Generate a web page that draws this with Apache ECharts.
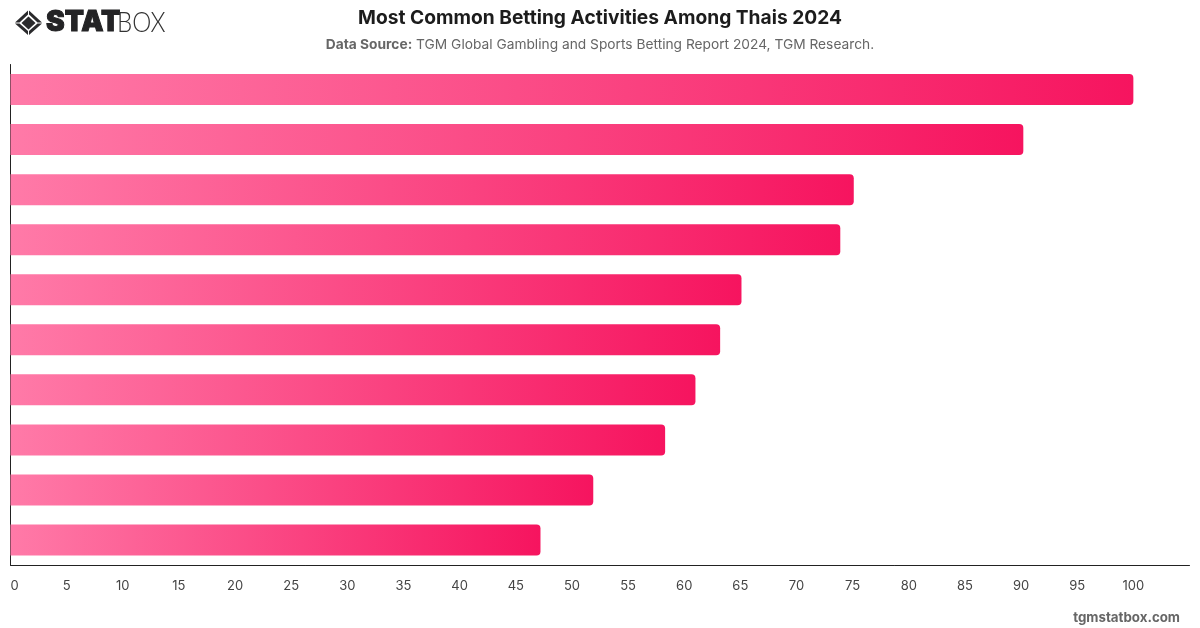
<!DOCTYPE html>
<html>
<head>
<meta charset="utf-8">
<style>html,body{margin:0;padding:0;background:#fff}#chart{width:1200px;height:628px}</style>
<script src="https://cdn.jsdelivr.net/npm/echarts@6/dist/echarts.min.js"></script>
</head>
<body>
<div id="chart"></div>
<script>
// Betting activity shares, largest first; the chart leaves the category names undrawn.
const categories = ['A1','A2','A3','A4','A5','A6','A7','A8','A9','A10'];
const values = [100, 90.2, 75.1, 73.9, 65.1, 63.2, 61, 58.3, 51.9, 47.2];
const titleText = 'Most Common Betting Activities Among Thais 2024';
const sourceLabel = 'Data Source:';
const sourceText = 'TGM Global Gambling and Sports Betting Report 2024, TGM Research.';
const siteText = 'tgmstatbox.com';

const font = 'Inter';
const chart = echarts.init(document.getElementById('chart'), null, {renderer: 'canvas'});

chart.setOption({
  animation: false,
  backgroundColor: '#fff',
  title: {
    text: titleText,
    subtext: '{b|' + sourceLabel + '} ' + sourceText,
    left: 595, top: 4, textAlign: 'center', itemGap: 10,
    textStyle: {fontFamily: font, fontSize: 19.2, fontWeight: 700, color: '#1c1c1c'},
    subtextStyle: {
      fontFamily: font, fontSize: 13.75, color: '#666',
      rich: {b: {fontFamily: font, fontSize: 13.75, fontWeight: 700, color: '#666'}}
    }
  },
  grid: {left: 10.5, right: 10.5, top: 64.5, height: 500.5},
  xAxis: {
    type: 'value', min: 0, max: 105, interval: 5,
    splitLine: {show: false},
    axisLine: {show: true, lineStyle: {color: '#222', width: 1}},
    axisTick: {show: false},
    axisLabel: {
      color: '#444', fontFamily: font, fontSize: 13, margin: 15,
      alignMinLabel: 'left',
      formatter: v => v > 100 ? '' : String(v)
    }
  },
  yAxis: {
    type: 'category', data: categories, inverse: true,
    axisLine: {show: true, lineStyle: {color: '#222', width: 1}},
    axisTick: {show: false},
    axisLabel: {show: false}
  },
  series: [{
    type: 'bar',
    data: values,
    barWidth: 31,
    itemStyle: {
      borderRadius: [0, 4, 4, 0],
      color: new echarts.graphic.LinearGradient(0, 0, 1, 0, [
        {offset: 0, color: '#ff7aa8'},
        {offset: 1, color: '#f6145f'}
      ])
    }
  }],
  graphic: [
    // Brand mark: four chevrons forming a diamond around a solid centre
    {type: 'polygon', shape: {points: [[15,22.5],[28,10.5],[28,14.5],[19.5,22.5]]}, style: {fill: '#2a2a2c'}},
    {type: 'polygon', shape: {points: [[29,10.5],[42,22.5],[37.5,22.5],[29,14.5]]}, style: {fill: '#2a2a2c'}},
    {type: 'polygon', shape: {points: [[15,23.5],[28,35],[28,31],[19.5,23.5]]}, style: {fill: '#2a2a2c'}},
    {type: 'polygon', shape: {points: [[29,35],[42,23.5],[37.5,23.5],[29,31]]}, style: {fill: '#2a2a2c'}},
    {type: 'polygon', shape: {points: [[21.5,23],[28.5,16.5],[35.5,23],[28.5,29.5]]}, style: {fill: '#2a2a2c'}},
    {type: 'text', x: 46, y: 9, style: {text: 'STAT', fontFamily: font, fontSize: 28, fontWeight: 900, fill: '#232325', stroke: '#232325', lineWidth: 1}},
    {type: 'text', x: 117, y: 9, scaleX: 0.86, style: {text: 'BOX', fontFamily: 'Lato', fontSize: 28, fontWeight: 300, fill: '#333'}},
    {type: 'text', right: 20, top: 611, style: {text: siteText, fontFamily: font, fontSize: 13.3, fontWeight: 700, fill: '#666'}}
  ]
});
</script>
</body>
</html>
